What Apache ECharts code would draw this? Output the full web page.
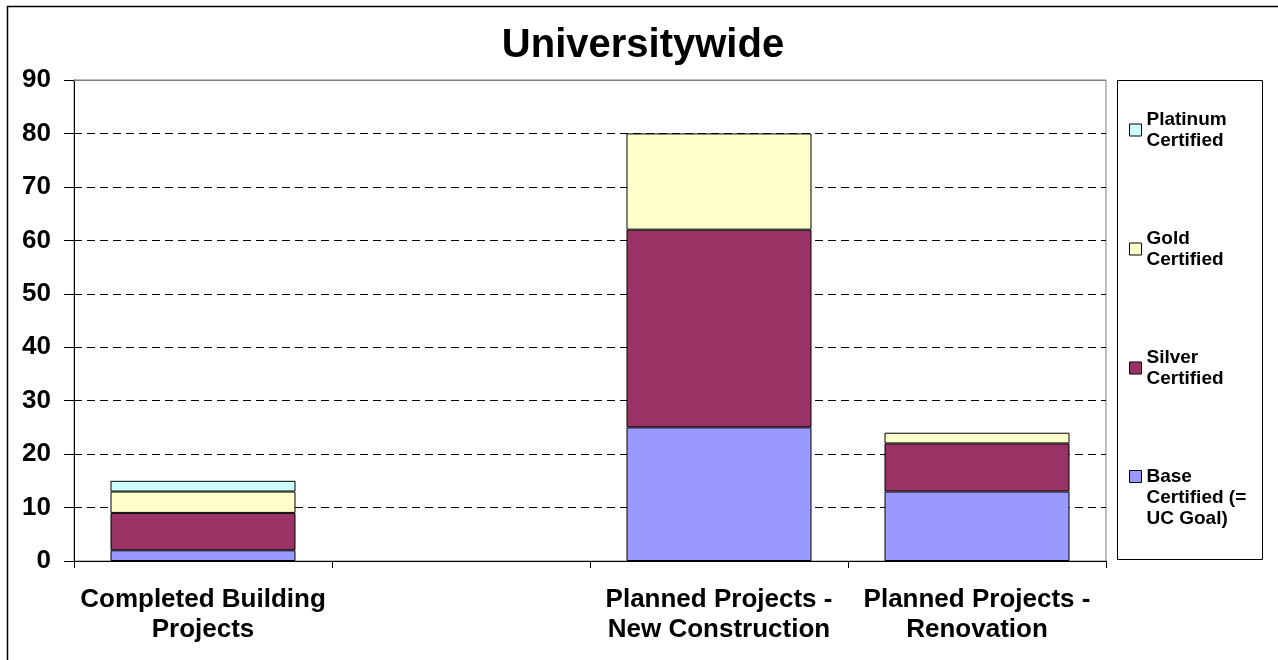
<!DOCTYPE html>
<html>
<head>
<meta charset="utf-8">
<script src="https://cdn.jsdelivr.net/npm/echarts@6/dist/echarts.min.js"></script>
<style>
html,body{margin:0;padding:0;background:#fff;}
#chart{width:1278px;height:660px;}
</style>
</head>
<body>
<div id="chart"></div>
<script>
var titleText = 'Universitywide';
var categories = ['Completed Building\nProjects', '', 'Planned Projects -\nNew Construction', 'Planned Projects -\nRenovation'];
var seriesNames = ['Base\nCertified (=\nUC Goal)', 'Silver\nCertified', 'Gold\nCertified', 'Platinum\nCertified'];
var baseValues = [2, null, 25, 13];
var silverValues = [7, null, 37, 9];
var goldValues = [4, null, 18, 2];
var platinumValues = [2, null, null, null];
var yTicks = [0, 10, 20, 30, 40, 50, 60, 70, 80, 90];
var colors = ['#9999FF', '#993366', '#FFFFCC', '#CCFFFF'];

var FONT = '"Liberation Sans", Arial, sans-serif';
var chart = echarts.init(document.getElementById('chart'), null, {renderer: 'canvas'});
var allValues = [baseValues, silverValues, goldValues, platinumValues];

var series = seriesNames.map(function (name, i) {
  return {
    name: name,
    type: 'bar',
    stack: 'total',
    barWidth: 185,
    data: allValues[i],
    itemStyle: {color: colors[i], borderColor: '#000', borderWidth: 1},
    emphasis: {disabled: true}
  };
});

var legendLineH = 21;
var legendText = {fontFamily: FONT, fontSize: 19, fontWeight: 'bold', color: '#000', lineHeight: legendLineH};
var upperNames = seriesNames.slice(1).reverse();
var legendUpper = upperNames.map(function (name) {
  return {name: name, icon: 'rect', textStyle: {padding: [0, 0, -legendLineH, 0]}};
});

var option = {
  animation: false,
  backgroundColor: '#fff',
  title: {
    text: titleText,
    left: 638,
    top: 21,
    textAlign: 'center',
    textStyle: {fontFamily: FONT, fontSize: 40, fontWeight: 'bold', color: '#000'}
  },
  legend: [{
    orient: 'vertical',
    left: 1129,
    top: 110,
    padding: 0,
    itemGap: 79,
    itemWidth: 12,
    itemHeight: 12,
    selectedMode: false,
    data: legendUpper,
    itemStyle: {borderColor: '#000', borderWidth: 1},
    textStyle: legendText
  }, {
    orient: 'vertical',
    left: 1129,
    top: 424,
    padding: 0,
    itemWidth: 12,
    itemHeight: 12,
    selectedMode: false,
    data: [{name: seriesNames[0], icon: 'rect'}],
    formatter: function (name) { return '\n\n' + name; },
    itemStyle: {borderColor: '#000', borderWidth: 1},
    textStyle: legendText
  }],
  grid: {
    left: 74, right: 172, top: 80, bottom: 99,
    show: true, borderColor: '#808080', borderWidth: 1,
    containLabel: false
  },
  xAxis: {
    type: 'category',
    data: categories,
    axisLine: {lineStyle: {color: '#000', width: 1}},
    axisTick: {show: true, length: 7, lineStyle: {color: '#000'}},
    axisLabel: {interval: 0, margin: 24, fontFamily: FONT, fontSize: 26, fontWeight: 'bold', color: '#000', lineHeight: 30}
  },
  yAxis: {
    type: 'value',
    min: yTicks[0],
    max: yTicks[yTicks.length - 1],
    interval: 10,
    axisLine: {show: true, lineStyle: {color: '#000', width: 1}},
    axisTick: {show: true, length: 10, lineStyle: {color: '#000'}},
    axisLabel: {margin: 23, fontFamily: FONT, fontSize: 26, fontWeight: 'bold', color: '#000'},
    splitLine: {show: true, lineStyle: {color: '#000', width: 1, type: [8, 5]}}
  },
  graphic: [
    {type: 'rect', z: 100, silent: true, shape: {x: 7.5, y: 6.5, width: 1400, height: 800}, style: {fill: 'none', stroke: '#000', lineWidth: 1.5}},
    {type: 'rect', z: 100, silent: true, shape: {x: 1117.5, y: 80.5, width: 145, height: 479}, style: {fill: 'none', stroke: '#000', lineWidth: 1}},
    {type: 'line', z: 100, silent: true, shape: {x1: 74, y1: 80.5, x2: 1106, y2: 80.5}, style: {stroke: '#808080', lineWidth: 1}}
  ],
  series: series
};
chart.setOption(option);
</script>
</body>
</html>
